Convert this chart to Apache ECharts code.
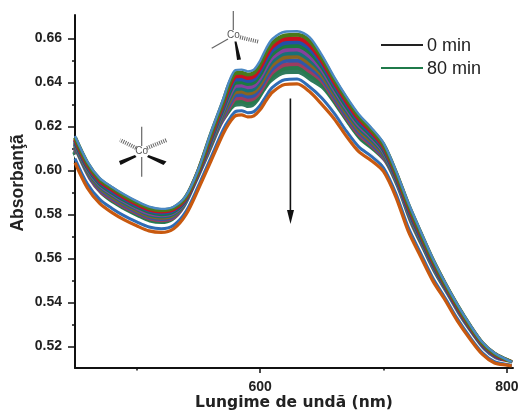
<!DOCTYPE html>
<html><head><meta charset="utf-8">
<style>html,body{margin:0;padding:0;background:#fff}#c{width:520px;height:413px}</style>
<script src="https://cdn.jsdelivr.net/npm/echarts@6/dist/echarts.min.js"></script>
</head><body><div id="c"></div>
<script>
const wavelengths=[450,460,470,480,490,500,510,520,530,540,550,560,570,575,580,585,590,595,600,605,610,620,630,640,650,660,670,680,690,700,710,720,730,740,750,760,770,780,790,800,804];
const t01=[.6156,.6040,.5965,.5925,.5890,.5860,.5835,.5825,.5835,.5885,.6005,.6170,.6322,.6405,.6456,.6458,.6450,.6458,.6498,.6555,.6597,.6630,.6632,.6606,.6525,.6425,.6335,.6255,.6195,.6125,.6000,.5855,.5725,.5600,.5490,.5390,.5300,.5220,.5170,.5140,.5130];
const t02=[.6150,.6034,.5959,.5919,.5884,.5854,.5829,.5819,.5830,.5881,.6000,.6162,.6312,.6392,.6442,.6444,.6436,.6444,.6483,.6539,.6580,.6613,.6616,.6589,.6512,.6414,.6325,.6245,.6186,.6117,.5993,.5847,.5718,.5594,.5485,.5386,.5296,.5217,.5167,.5139,.5129];
const t03=[.6143,.6027,.5953,.5913,.5878,.5848,.5823,.5814,.5824,.5876,.5996,.6154,.6303,.6379,.6427,.6430,.6421,.6429,.6467,.6522,.6564,.6597,.6599,.6572,.6499,.6403,.6314,.6235,.6178,.6110,.5986,.5840,.5712,.5588,.5481,.5381,.5292,.5214,.5165,.5137,.5128];
const t04=[.6137,.6021,.5947,.5906,.5872,.5842,.5818,.5808,.5819,.5872,.5991,.6146,.6293,.6366,.6413,.6415,.6407,.6415,.6452,.6506,.6547,.6580,.6583,.6555,.6486,.6392,.6304,.6225,.6169,.6102,.5979,.5832,.5705,.5582,.5476,.5377,.5289,.5210,.5162,.5136,.5127];
const t05=[.6130,.6015,.5941,.5900,.5866,.5836,.5812,.5802,.5814,.5867,.5986,.6138,.6283,.6353,.6399,.6401,.6393,.6400,.6436,.6490,.6530,.6564,.6566,.6538,.6473,.6381,.6293,.6216,.6160,.6095,.5972,.5825,.5698,.5576,.5471,.5373,.5285,.5207,.5160,.5134,.5126];
const t06=[.6124,.6008,.5935,.5894,.5860,.5830,.5806,.5797,.5809,.5863,.5981,.6130,.6273,.6339,.6384,.6387,.6379,.6386,.6421,.6473,.6514,.6547,.6550,.6520,.6460,.6370,.6283,.6206,.6152,.6087,.5965,.5817,.5692,.5570,.5467,.5368,.5281,.5204,.5157,.5133,.5125];
const t07=[.6118,.6002,.5929,.5888,.5854,.5825,.5800,.5791,.5803,.5858,.5977,.6122,.6264,.6326,.6370,.6373,.6364,.6371,.6406,.6457,.6497,.6531,.6533,.6503,.6447,.6359,.6272,.6196,.6143,.6080,.5958,.5810,.5685,.5564,.5462,.5364,.5277,.5201,.5154,.5131,.5124];
const t08=[.6111,.5996,.5923,.5882,.5848,.5819,.5794,.5786,.5798,.5854,.5972,.6114,.6254,.6313,.6356,.6359,.6350,.6357,.6390,.6441,.6480,.6514,.6517,.6486,.6434,.6348,.6262,.6186,.6134,.6072,.5951,.5802,.5678,.5559,.5458,.5360,.5274,.5198,.5152,.5130,.5123];
const t09=[.6105,.5989,.5917,.5876,.5842,.5813,.5789,.5780,.5793,.5849,.5967,.6106,.6244,.6300,.6341,.6344,.6336,.6342,.6375,.6424,.6463,.6498,.6500,.6469,.6421,.6337,.6251,.6176,.6125,.6065,.5944,.5795,.5672,.5553,.5453,.5355,.5270,.5194,.5149,.5128,.5122];
const t10=[.6099,.5983,.5910,.5869,.5835,.5807,.5783,.5774,.5787,.5845,.5962,.6097,.6234,.6287,.6327,.6330,.6321,.6328,.6359,.6408,.6447,.6481,.6484,.6452,.6408,.6326,.6241,.6166,.6117,.6057,.5937,.5787,.5665,.5547,.5448,.5351,.5266,.5191,.5147,.5127,.5121];
const t11=[.6092,.5977,.5904,.5863,.5829,.5801,.5777,.5769,.5782,.5840,.5958,.6089,.6225,.6274,.6312,.6316,.6307,.6313,.6344,.6391,.6430,.6464,.6467,.6435,.6395,.6315,.6231,.6156,.6108,.6050,.5930,.5780,.5658,.5541,.5444,.5347,.5262,.5188,.5144,.5125,.5120];
const t12=[.6086,.5970,.5898,.5857,.5823,.5795,.5771,.5763,.5777,.5836,.5953,.6081,.6215,.6261,.6298,.6302,.6293,.6299,.6329,.6375,.6413,.6448,.6451,.6418,.6381,.6304,.6220,.6147,.6099,.6042,.5923,.5772,.5652,.5535,.5439,.5342,.5259,.5185,.5141,.5124,.5119];
const t13=[.6054,.5939,.5868,.5827,.5793,.5766,.5743,.5735,.5751,.5814,.5929,.6056,.6184,.6232,.6267,.6271,.6262,.6267,.6295,.6339,.6377,.6412,.6415,.6380,.6329,.6260,.6178,.6107,.6065,.6012,.5896,.5742,.5625,.5511,.5420,.5325,.5243,.5172,.5131,.5118,.5114];
const t14=[.6071,.5956,.5885,.5843,.5810,.5782,.5758,.5750,.5765,.5826,.5942,.6069,.6200,.6246,.6282,.6286,.6277,.6283,.6312,.6357,.6395,.6430,.6432,.6399,.6361,.6286,.6204,.6131,.6086,.6030,.5912,.5760,.5641,.5526,.5432,.5335,.5253,.5180,.5137,.5122,.5117];
const t15=[.6035,.5920,.5850,.5808,.5775,.5748,.5725,.5718,.5735,.5800,.5915,.6040,.6165,.6215,.6248,.6252,.6243,.6248,.6275,.6318,.6355,.6390,.6393,.6358,.6300,.6235,.6155,.6085,.6045,.5995,.5880,.5725,.5610,.5498,.5410,.5315,.5235,.5165,.5125,.5115,.5112];
const curves=[t12,t11,t10,t09,t08,t07,t06,t05,t04,t03,t02,t01,t14,t13,t15];
const colors=['#2f7a5c','#287a4c','#9c3c60','#2f58a8','#8a6420','#187078','#86409c','#1a7a40','#2450a8','#c81020','#4a7a1a','#4a88c4','#ffffff','#2f6cb5','#c8590f'];
const widths=[6,4.4,4.4,4.4,4.4,4.4,4.4,4.4,4.4,4.4,4,2.4,2.6,3,3.2];
const yMajor=[0.52,0.54,0.56,0.58,0.60,0.62,0.64,0.66];
const yMinor=[0.53,0.55,0.57,0.59,0.61,0.63,0.65];
const xMajor=[600,800];
const xMinor=[500,700];
const yTitle='Absorban\u0163\u00e3';
const xTitle='Lungime de und\u00e3 (nm)';
const legendLabels=['0 min','80 min'];
const legendColors=['#222222','#1f7a4a'];

const INK='#222';
const FONT='"Liberation Sans",Arial,sans-serif';
const series=curves.map((c,i)=>({
  type:'line',name:'s'+(i+1),smooth:0.3,showSymbol:false,symbol:'none',
  data:wavelengths.map((w,k)=>[w,c[k]]),
  lineStyle:{color:colors[i],width:widths[i]},
  z:2+i,animation:false,clip:true
}));
const xa=(extra)=>Object.assign({type:'value',min:450,max:805,position:'bottom',splitLine:{show:false}},extra);
const ya=(extra)=>Object.assign({type:'value',min:0.5102,max:0.6706,position:'left',splitLine:{show:false}},extra);
const hatch=(x1,y1,x2,y2)=>({type:'line',shape:{x1,y1,x2,y2},style:{stroke:'#666',lineWidth:4,lineDash:[1,1.2]},z:20});
const thin=(x1,y1,x2,y2)=>({type:'line',shape:{x1,y1,x2,y2},style:{stroke:'#666',lineWidth:1.2},z:20});
const wedge=(pts)=>({type:'polygon',shape:{points:pts},style:{fill:'#111'},z:20});
const co=(x,y)=>({type:'text',x,y,style:{text:'Co',font:'10px '+FONT,fill:'#555',textAlign:'center',textVerticalAlign:'middle'},z:21});
const graphic=[
  thin(141.7,126.7,141.7,146),thin(141.7,157,141.7,176.7),
  hatch(136,148,120,140),hatch(147,148,166.7,140),
  wedge([[135,155],[136.5,157],[120.5,165],[119,161]]),
  wedge([[148.5,155],[147,157],[163.5,165],[166.5,161.5]]),
  co(141.7,151.5),
  thin(233.3,11,233.3,30),thin(228,39,211.7,48.3),
  hatch(240,37.3,258.3,41.7),
  wedge([[234.5,41.5],[236.5,41.5],[241,59.5],[237,60]]),
  co(233.3,35),
  {type:'line',shape:{x1:290.4,y1:98.5,x2:290.4,y2:214},style:{stroke:'#111',lineWidth:1.6},z:20},
  {type:'polygon',shape:{points:[[287,210],[294,210],[290.5,224]]},style:{fill:'#111'},z:20},
  {type:'line',shape:{x1:381,y1:45,x2:423,y2:45},style:{stroke:legendColors[0],lineWidth:2},z:20},
  {type:'line',shape:{x1:381,y1:68,x2:423,y2:68},style:{stroke:legendColors[1],lineWidth:2},z:20},
  {type:'text',x:427,y:46,style:{text:legendLabels[0],font:'18px '+FONT,fill:INK,textVerticalAlign:'middle'},z:20},
  {type:'text',x:427,y:69,style:{text:legendLabels[1],font:'18px '+FONT,fill:INK,textVerticalAlign:'middle'},z:20}
];
const chart=echarts.init(document.getElementById('c'),null,{renderer:'canvas'});
chart.setOption({
  animation:false,backgroundColor:'#fff',
  grid:{left:75,right:7,top:15,bottom:45,containLabel:false,outerBoundsMode:'none'},
  xAxis:[
    xa({name:xTitle,nameLocation:'middle',nameGap:27,nameMoveOverlap:false,
      nameTextStyle:{color:INK,fontFamily:'"DejaVu Sans",sans-serif',fontWeight:'bold',fontSize:15.5},
      axisLine:{show:true,lineStyle:{color:'#111',width:2}},
      axisTick:{show:true,customValues:xMajor,length:5,lineStyle:{color:'#111',width:1.5}},
      axisLabel:{show:true,customValues:xMajor,margin:12,color:INK,fontFamily:FONT,fontWeight:'bold',fontSize:14}}),
    xa({axisLine:{show:false},axisTick:{show:true,customValues:xMinor,length:2.5,lineStyle:{color:'#111',width:1.5}},axisLabel:{show:false}})
  ],
  yAxis:[
    ya({name:yTitle,nameLocation:'middle',nameGap:48,nameRotate:90,nameMoveOverlap:false,
      nameTextStyle:{color:INK,fontFamily:FONT,fontWeight:'bold',fontSize:17.5,padding:[0,0,0,17]},
      axisLine:{show:true,lineStyle:{color:'#111',width:2}},
      axisTick:{show:true,customValues:yMajor,length:7,lineStyle:{color:'#111',width:1.5}},
      axisLabel:{show:true,customValues:yMajor,margin:13,color:INK,fontFamily:FONT,fontWeight:'bold',fontSize:14,formatter:v=>v.toFixed(2)}}),
    ya({axisLine:{show:false},axisTick:{show:true,customValues:yMinor,length:3,lineStyle:{color:'#111',width:1.5}},axisLabel:{show:false}})
  ],
  series,
  graphic
});
</script></body></html>
